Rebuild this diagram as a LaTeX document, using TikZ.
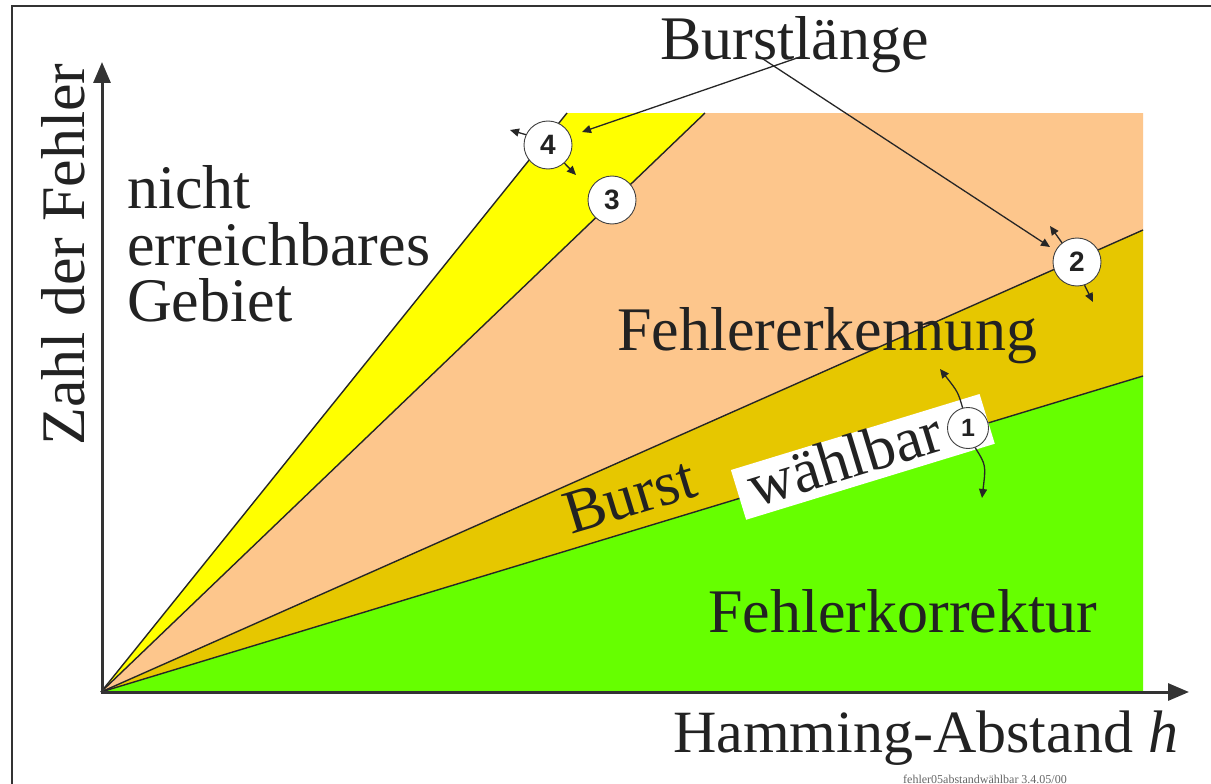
\documentclass[tikz,border=0pt]{standalone}
\usepackage{fontspec}
\setmainfont{Liberation Serif}
\newfontfamily\numfont{Liberation Sans}
\usetikzlibrary{arrows.meta}
\definecolor{cyel}{HTML}{FFFF00}
\definecolor{corange}{HTML}{FDC68C}
\definecolor{cgold}{HTML}{E6C700}
\definecolor{cgreen}{HTML}{66FF00}
\definecolor{ctext}{HTML}{222222}
\definecolor{caxis}{HTML}{333333}
\begin{document}
\begin{tikzpicture}[x=1pt,y=-1pt,
  bigtext/.style={font=\fontsize{62}{57}\selectfont, text=ctext, inner sep=0pt},
  edgeline/.style={line width=1.4pt, black!85},
  axisline/.style={line width=3pt, caxis, -{Triangle[length=21pt,width=17pt]}},
  numcirc/.style={circle, draw=black!75, line width=0.9pt, fill=white, minimum size=48pt, inner sep=0pt,
    font=\numfont\bfseries\fontsize{28}{28}\selectfont, text=ctext},
  smallarrow/.style={line width=1.3pt, black!85, -{Triangle[length=9pt,width=8pt]}},
  framel/.style={line width=2.5pt, caxis}]
\useasboundingbox (0,0) rectangle (1211,784);
\fill[white] (0,0) rectangle (1211,784);
% frame
\draw[framel] (12,784) -- (12,6) -- (1211,6);
% coordinates
\coordinate (O) at (101,692);
\coordinate (p4) at (567,113);
\coordinate (p3) at (705,113);
\coordinate (tr) at (1143,113);
\coordinate (p2) at (1143,230);
\coordinate (p1) at (1143,376);
\coordinate (br) at (1143,692);
% regions
\fill[cgreen] (O) -- (p1) -- (br) -- cycle;
\fill[cgold] (O) -- (p2) -- (p1) -- cycle;
\fill[corange] (O) -- (p3) -- (tr) -- (p2) -- cycle;
\fill[cyel] (O) -- (p4) -- (p3) -- cycle;
\draw[edgeline] (O) -- (p4);
\draw[edgeline] (O) -- (p3);
\draw[edgeline] (O) -- (p2);
\draw[edgeline] (O) -- (p1);
% axes
\coordinate (ytip) at (102,62);
\coordinate (xtip) at (1189,692);
\draw[axisline] (102,693.5) -- (ytip);
\draw[axisline] (100.5,692) -- (xtip);
% texts
\node[bigtext, anchor=base west] (burstlaenge) at (660,60) {Burstlänge};
\node[bigtext, anchor=base west] (nicht) at (127,208) {nicht};
\node[bigtext, anchor=base west] (erreich) at (127,265) {erreichbares};
\node[bigtext, anchor=base west] (gebiet) at (127,321) {Gebiet};
\node[bigtext, anchor=base west] (erkennung) at (617,350) {Fehlererkennung};
\node[bigtext, anchor=base west] (korrektur) at (708,632) {Fehlerkorrektur};
\node[bigtext, anchor=base west, font=\fontsize{60}{60}\selectfont] (hamming) at (673,752) {Hamming-Abstand \textit{h}};
\node[bigtext, anchor=base west, rotate=90] (zahl) at (84,446) {Zahl der Fehler};
\node[bigtext, anchor=base west, rotate=17] (burst) at (571,535) {Burst};
\node[fill=white, rotate=17, anchor=south west, minimum width=260pt, minimum height=52pt, inner sep=0pt] (wbox) at (746,520) {};
\node[bigtext, anchor=base west, rotate=17] (waehlbar) at (755,508) {wählbar};
% circles
\node[numcirc] (c4) at (548,145) {4};
\node[numcirc] (c3) at (612,200) {3};
\node[numcirc] (c2) at (1077,262) {2};
\node[numcirc, minimum size=41pt, font=\numfont\bfseries\fontsize{25}{25}\selectfont] (c1) at (968,428) {1};
% arrows from Burstlaenge
\coordinate (bA) at (800,57);
\coordinate (bB) at (760,57);
\coordinate (t4) at (582,132);
\coordinate (t2) at (1050,247);
\draw[smallarrow] (bA) -- (t4);
\draw[smallarrow] (bB) -- (t2);
% circle arrows
\coordinate (a4l) at (510,130);
\coordinate (a4r) at (576,175);
\coordinate (a2u) at (1050,226);
\coordinate (a2d) at (1093,302);
\coordinate (a1u) at (940,369);
\coordinate (a1d) at (982,498);
\draw[smallarrow] (c4.155) -- (a4l);
\draw[smallarrow] (c4.-48) -- (a4r);
\draw[smallarrow] (c2.128) -- (a2u);
\draw[smallarrow] (c2.-72) -- (a2d);
\draw[smallarrow] (c1.105) .. controls (958,392) .. (a1u);
\draw[smallarrow] (c1.-70) .. controls (986,465) .. (a1d);
% footer
\node[font=\fontsize{12}{12}\selectfont, text=black!60, inner sep=0pt] (footer) at (985,779) {fehler05abstandwählbar 3.4.05/00};
\end{tikzpicture}
\end{document}
